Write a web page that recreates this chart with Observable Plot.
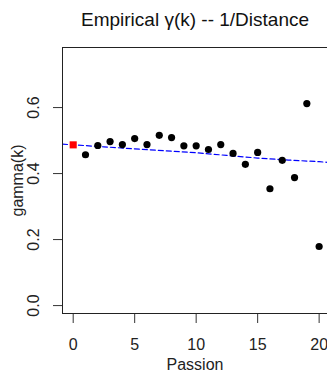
<!DOCTYPE html>
<html>
<head>
<meta charset="utf-8">
<script src="https://cdn.jsdelivr.net/npm/d3@7"></script>
<script src="https://cdn.jsdelivr.net/npm/@observablehq/plot@0.6"></script>
<style>
  html, body { margin: 0; padding: 0; background: #fff; overflow: hidden; }
  svg { display: block; }
</style>
</head>
<body>
<div id="chart"></div>
<script>
const titleText = "Empirical γ(k) -- 1/Distance";
const xLabel = "Passion";
const yLabel = "gamma(k)";
const lags = [1,2,3,4,5,6,7,8,9,10,11,12,13,14,15,16,17,18,19,20];
const gammaValues = [0.457,0.485,0.497,0.488,0.506,0.488,0.516,0.509,0.484,0.484,0.473,0.488,0.461,0.428,0.464,0.354,0.440,0.388,0.612,0.179];
const lag0 = [0];
const gamma0 = [0.487];
const fitX = [-0.87, 0, 2.5, 5, 7.5, 10, 12.5, 15, 17.5, 20, 20.7];
const fitY = [0.489, 0.487, 0.481, 0.475, 0.469, 0.463, 0.455, 0.447, 0.441, 0.436, 0.434];
const xTicks = [0, 5, 10, 15, 20];
const yTicks = [0, 0.2, 0.4, 0.6];

const pts = lags.map((k, i) => ({k, g: gammaValues[i]}));
const pts0 = lag0.map((k, i) => ({k, g: gamma0[i]}));
const fit = fitX.map((k, i) => ({k, g: fitY[i]}));

const font = "Liberation Sans, Arial, sans-serif";

const chart = Plot.plot({
  width: 327,
  height: 371,
  marginLeft: 62,
  marginRight: 0,
  marginTop: 47,
  marginBottom: 58,
  style: {fontFamily: font, fontSize: "16px", background: "#fff", overflow: "visible"},
  x: {domain: [-0.87, 20.68], axis: null},
  y: {domain: [-0.024, 0.782], axis: null},
  marks: [
    Plot.line(fit, {x: "k", y: "g", stroke: "blue", strokeWidth: 1.2, strokeDasharray: "5,3", clip: true}),
    Plot.dot(pts, {x: "k", y: "g", r: 3.6, fill: "black", stroke: "none"}),
    Plot.dot(pts0, {x: "k", y: "g", r: 4, symbol: "square", fill: "red", stroke: "none"}),
    Plot.axisX(xTicks, {tickSize: 10, tickPadding: 15, tickFormat: d => String(d), label: null, stroke: "#333", fontSize: 16, fill: "#222"}),
    Plot.axisY(yTicks, {tickSize: 9, tickFormat: () => "", label: null, stroke: "#333"}),
    Plot.text(yTicks, {y: d => d, frameAnchor: "left", dx: -29, rotate: -90, text: d => d.toFixed(1), fontSize: 16, fill: "#222", textAnchor: "middle", lineAnchor: "middle"}),
    Plot.text([yLabel], {frameAnchor: "left", dx: -45, rotate: -90, text: d => d, fontSize: 16, fill: "#222", textAnchor: "middle", lineAnchor: "middle"}),
    Plot.text([xLabel], {frameAnchor: "bottom", dy: 56, text: d => d, fontSize: 16, fill: "#222", textAnchor: "middle", lineAnchor: "bottom"}),
    Plot.text([titleText], {frameAnchor: "top", dy: -22, text: d => d, fontSize: 19, fill: "#111", textAnchor: "middle", lineAnchor: "bottom"}),
    Plot.frame({anchor: "top", stroke: "#222"}),
    Plot.frame({anchor: "left", stroke: "#222"}),
    Plot.frame({anchor: "bottom", stroke: "#222"})
  ]
});
document.getElementById("chart").appendChild(chart);
</script>
</body>
</html>
